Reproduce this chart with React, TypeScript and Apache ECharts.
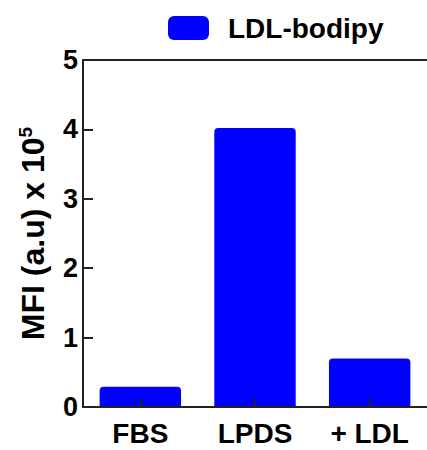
import React, { useEffect, useRef } from "react";
import * as echarts from "echarts";

const categories = ["FBS", "LPDS", "+ LDL"];
const ldlBodipy = [0.29, 4.02, 0.7];
const seriesName = "LDL-bodipy";
const yTicks = { min: 0, max: 5, interval: 1 };

const FONT = "'Liberation Sans', Arial, sans-serif";
const BLUE = "#0000FF";
const AXIS = "#222222";

export default function App() {
  const ref = useRef<HTMLDivElement>(null);

  useEffect(() => {
    if (!ref.current) return;
    const chart = echarts.init(ref.current, undefined, { renderer: "svg" });
    chart.setOption({
      animation: false,
      backgroundColor: "#ffffff",
      legend: {
        data: [seriesName],
        left: 163,
        top: 9,
        itemWidth: 41,
        itemHeight: 24,
        icon: "roundRect",
        textStyle: {
          fontFamily: FONT,
          fontWeight: "bold",
          fontSize: 28,
          color: "#000",
          padding: [0, 0, 0, 14],
        },
      },
      grid: { left: 83, top: 60, right: 0, bottom: 43, containLabel: false },
      xAxis: [
        {
          type: "category",
          data: categories,
          z: 10,
          axisLine: { lineStyle: { color: AXIS, width: 2 } },
          axisTick: {
            show: true,
            inside: true,
            length: 9,
            alignWithLabel: true,
            lineStyle: { color: AXIS, width: 2 },
          },
          axisLabel: {
            margin: 12,
            fontFamily: FONT,
            fontWeight: "bold",
            fontSize: 28,
            color: "#000",
          },
        },
        {
          type: "category",
          data: categories,
          position: "top",
          axisLine: { show: true, lineStyle: { color: AXIS, width: 2 } },
          axisTick: { show: false },
          axisLabel: { show: false },
        },
      ],
      yAxis: {
        type: "value",
        min: yTicks.min,
        max: yTicks.max,
        interval: yTicks.interval,
        z: 10,
        splitLine: { show: false },
        axisLine: { show: true, lineStyle: { color: AXIS, width: 2 } },
        axisTick: { show: true, inside: true, length: 10, lineStyle: { color: AXIS, width: 2 } },
        axisLabel: {
          margin: 5,
          fontFamily: FONT,
          fontWeight: "bold",
          fontSize: 27,
          color: "#000",
        },
        name: "MFI (a.u) x 10{sup|5}",
        nameLocation: "middle",
        nameGap: 33,
        nameTextStyle: {
          fontFamily: FONT,
          fontWeight: "bold",
          fontSize: 32,
          lineHeight: 34,
          color: "#000",
          rich: {
            sup: {
              fontFamily: FONT,
              fontWeight: "bold",
              fontSize: 19,
              lineHeight: 19,
              verticalAlign: "top",
              color: "#000",
            },
          },
        },
      },
      series: [
        {
          name: seriesName,
          type: "bar",
          z: 1,
          data: ldlBodipy,
          barWidth: "71%",
          itemStyle: { color: BLUE, borderRadius: [4, 4, 0, 0] },
        },
      ],
    });
    return () => chart.dispose();
  }, []);

  return <div ref={ref} style={{ width: 427, height: 450, position: "absolute", left: 0, top: 0 }} />;
}
